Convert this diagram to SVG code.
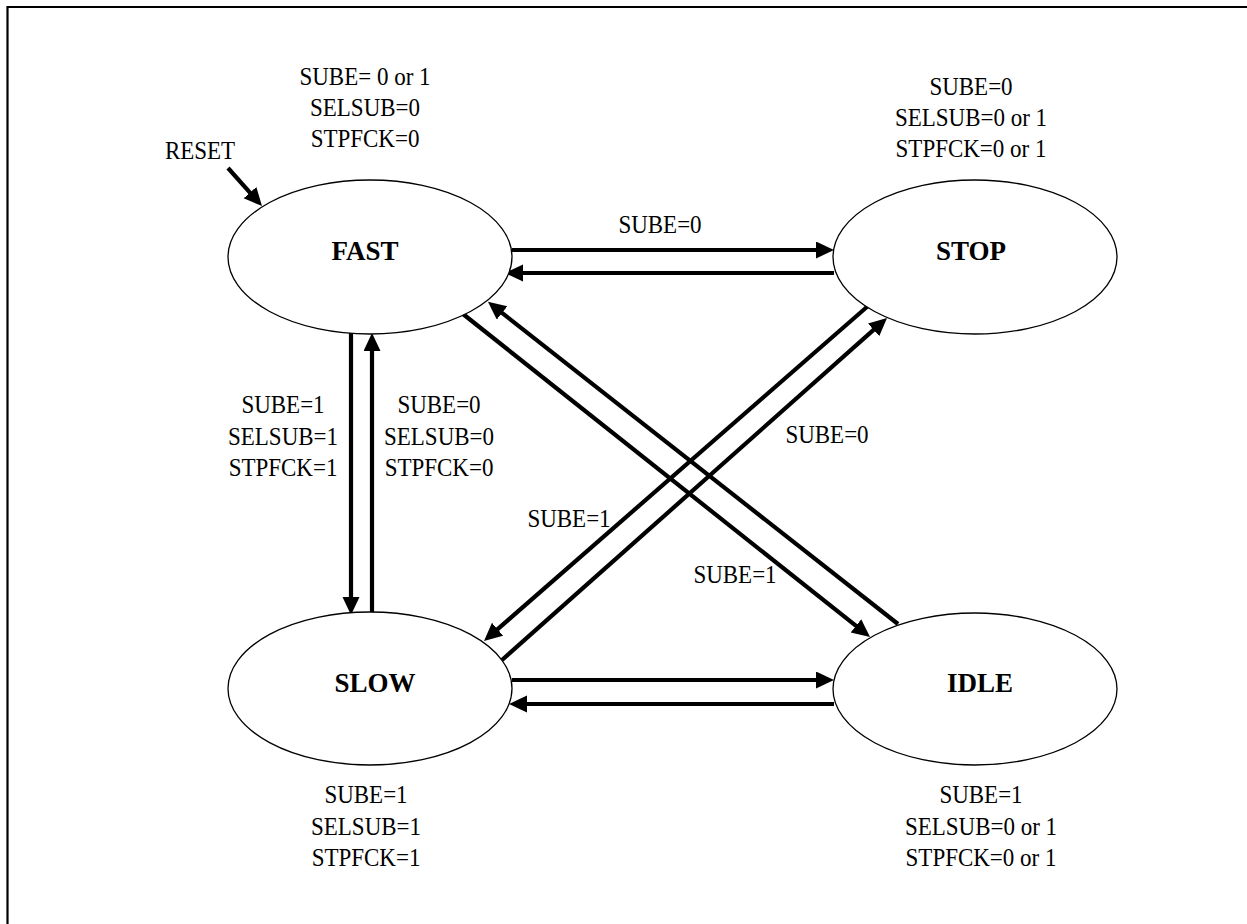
<svg xmlns="http://www.w3.org/2000/svg" width="1247" height="924" viewBox="0 0 1247 924">
<style>
  .bg { fill: #ffffff; }
  .frame { fill: none; stroke: #000; stroke-width: 2.2; }
  .state { fill: #ffffff; stroke: #000; stroke-width: 1.3; }
  .name { font-family: "Liberation Serif", "Times New Roman", serif; font-size: 27px; font-weight: bold; text-anchor: middle; fill: #000; }
  .lbl { font-family: "Liberation Serif", "Times New Roman", serif; font-size: 23px; text-anchor: middle; fill: #000; }
  .edge { fill: none; stroke: #000; stroke-width: 4.2; marker-end: url(#arrow); }
</style>
<defs>
  <marker id="arrow" markerUnits="userSpaceOnUse" markerWidth="19" markerHeight="18" refX="9" refY="8.5" orient="auto">
    <path d="M0,0 L18,8.5 L0,17 Z" fill="#000"/>
  </marker>
</defs>
<rect class="bg" x="0" y="0" width="1247" height="924"/>
<path class="frame" d="M7.5,924 V7 H1247"/>

<g id="connectors">
  <line class="edge" x1="512" y1="250" x2="825" y2="250"/>
  <line class="edge" x1="834" y1="273" x2="514" y2="273"/>
  <line class="edge" x1="351" y1="333" x2="351" y2="606"/>
  <line class="edge" x1="372" y1="613" x2="372" y2="342"/>
  <line class="edge" x1="512" y1="680" x2="825" y2="680"/>
  <line class="edge" x1="834" y1="704" x2="518" y2="704"/>
  <line class="edge" x1="463" y1="314" x2="863" y2="631.4"/>
  <line class="edge" x1="898" y1="624" x2="495" y2="307.4"/>
  <line class="edge" x1="868" y1="306" x2="490.8" y2="635.1"/>
  <line class="edge" x1="502" y1="660" x2="880.3" y2="323.9"/>
  <line class="edge" x1="228" y1="168" x2="256" y2="199.3"/>
</g>

<g id="edge-labels">
  <text class="lbl" transform="translate(660,233) scale(1,1.1)">SUBE=0</text>
  <text class="lbl" transform="translate(283,413) scale(1,1.1)">SUBE=1</text>
  <text class="lbl" transform="translate(283,444.5) scale(1,1.1)">SELSUB=1</text>
  <text class="lbl" transform="translate(283,476) scale(1,1.1)">STPFCK=1</text>
  <text class="lbl" transform="translate(439,413) scale(1,1.1)">SUBE=0</text>
  <text class="lbl" transform="translate(439,444.5) scale(1,1.1)">SELSUB=0</text>
  <text class="lbl" transform="translate(439,476) scale(1,1.1)">STPFCK=0</text>
  <text class="lbl" transform="translate(827,443) scale(1,1.1)">SUBE=0</text>
  <text class="lbl" transform="translate(569,527) scale(1,1.1)">SUBE=1</text>
  <text class="lbl" transform="translate(735,583) scale(1,1.1)">SUBE=1</text>
  <text class="lbl" transform="translate(200,159) scale(1,1.1)">RESET</text>
</g>

<g id="FAST">
  <ellipse class="state" cx="370" cy="257" rx="142" ry="77"/>
  <text class="name" x="365" y="260">FAST</text>
  <text class="lbl" transform="translate(365,85) scale(1,1.1)">SUBE= 0 or 1</text>
  <text class="lbl" transform="translate(365,116) scale(1,1.1)">SELSUB=0</text>
  <text class="lbl" transform="translate(365,147) scale(1,1.1)">STPFCK=0</text>
</g>

<g id="STOP">
  <ellipse class="state" cx="975" cy="257" rx="142" ry="77"/>
  <text class="name" x="971" y="260">STOP</text>
  <text class="lbl" transform="translate(971,95) scale(1,1.1)">SUBE=0</text>
  <text class="lbl" transform="translate(971,126) scale(1,1.1)">SELSUB=0 or 1</text>
  <text class="lbl" transform="translate(971,157) scale(1,1.1)">STPFCK=0 or 1</text>
</g>

<g id="SLOW">
  <ellipse class="state" cx="370" cy="688.5" rx="142" ry="76.5"/>
  <text class="name" x="375" y="692">SLOW</text>
  <text class="lbl" transform="translate(366,803) scale(1,1.1)">SUBE=1</text>
  <text class="lbl" transform="translate(366,835) scale(1,1.1)">SELSUB=1</text>
  <text class="lbl" transform="translate(366,866) scale(1,1.1)">STPFCK=1</text>
</g>

<g id="IDLE">
  <ellipse class="state" cx="975" cy="689" rx="142" ry="76"/>
  <text class="name" x="980" y="692">IDLE</text>
  <text class="lbl" transform="translate(981,803) scale(1,1.1)">SUBE=1</text>
  <text class="lbl" transform="translate(981,835) scale(1,1.1)">SELSUB=0 or 1</text>
  <text class="lbl" transform="translate(981,866) scale(1,1.1)">STPFCK=0 or 1</text>
</g>
</svg>
